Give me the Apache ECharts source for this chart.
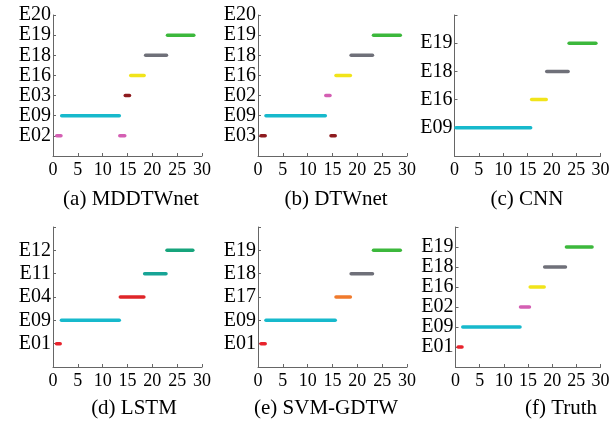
<!DOCTYPE html>
<html>
<head>
<meta charset="utf-8">
<script src="https://cdn.jsdelivr.net/npm/echarts@6/dist/echarts.min.js"></script>
<style>html,body{margin:0;padding:0;background:#fff}#c{width:615px;height:426px}</style>
</head>
<body>
<div id="c"></div>
<script>
// ---- data ----
const xTicks = [0, 5, 10, 15, 20, 25, 30];

const titles = ['(a) MDDTWnet', '(b) DTWnet', '(c) CNN', '(d) LSTM', '(e) SVM-GDTW', '(f) Truth'];

const labelsA = ['', 'E02', 'E09', 'E03', 'E16', 'E18', 'E19', 'E20'];
const segsA = [['E02', 0.75, 1.6], ['E02', 13.45, 14.45], ['E09', 1.75, 13.35], ['E03', 14.55, 15.4],
               ['E16', 15.65, 18.35], ['E18', 18.65, 22.85], ['E19', 23.05, 28.35]];

const labelsB = ['', 'E03', 'E09', 'E02', 'E16', 'E18', 'E19', 'E20'];
const segsB = [['E03', 0.6, 1.45], ['E03', 14.7, 15.55], ['E09', 1.6, 13.55], ['E02', 13.65, 14.5],
               ['E16', 15.7, 18.6], ['E18', 18.75, 23.05], ['E19', 23.25, 28.65]];

const labelsC = ['', 'E09', 'E16', 'E18', 'E19', ''];
const segsC = [['E09', 0.3, 15.65], ['E16', 15.85, 18.85], ['E18', 18.95, 23.35], ['E19', 23.55, 29.05]];

const labelsD = ['', 'E01', 'E09', 'E04', 'E11', 'E12', ''];
const segsD = [['E01', 0.7, 1.45], ['E09', 1.7, 13.35], ['E04', 13.55, 18.3], ['E11', 18.45, 22.75], ['E12', 22.95, 28.15]];

const labelsE = ['', 'E01', 'E09', 'E17', 'E18', 'E19', ''];
const segsE = [['E01', 0.6, 1.45], ['E09', 1.6, 15.55], ['E17', 15.7, 18.6], ['E18', 18.75, 23.05], ['E19', 23.25, 28.65]];

const labelsF = ['', 'E01', 'E09', 'E02', 'E16', 'E18', 'E19', ''];
const segsF = [['E01', 0.55, 1.35], ['E09', 1.5, 13.35], ['E02', 13.45, 15.3], ['E16', 15.45, 18.35],
               ['E18', 18.45, 22.75], ['E19', 22.95, 28.25]];

// ---- styles ----
const eventColors = {
  E01: '#e8232c', E02: '#d45fb3', E03: '#8e1b1f', E04: '#df2528', E09: '#17b9cc',
  E11: '#17a496', E12: '#17a47c', E16: '#f1e41a', E17: '#f07a2c', E18: '#6f7079', E19: '#3cb83c'
};
const FONT = 'Liberation Serif';
const grids = [
  {left: 53, top: 15, width: 149, height: 141},
  {left: 258, top: 15, width: 149, height: 141},
  {left: 454.5, top: 15, width: 146, height: 141},
  {left: 53, top: 227, width: 149, height: 140},
  {left: 258, top: 227, width: 149, height: 140},
  {left: 455.5, top: 227, width: 145, height: 140}
];
const titlePos = [[131, 199], [336, 199], [527, 199], [134, 408], [326, 408], [561, 408]];

const panels = [
  [labelsA, segsA], [labelsB, segsB], [labelsC, segsC],
  [labelsD, segsD], [labelsE, segsE], [labelsF, segsF]
];

const axisLine = {show: true, lineStyle: {color: '#666', width: 1}};
const option = {
  animation: false,
  backgroundColor: '#fff',
  grid: grids,
  xAxis: panels.map((p, i) => ({
    type: 'value', gridIndex: i, min: xTicks[0], max: xTicks[xTicks.length - 1], interval: 5,
    axisLine: axisLine,
    axisTick: {show: true, inside: true, length: 3, lineStyle: {color: '#666'}},
    splitLine: {show: false},
    axisLabel: {color: '#000', fontFamily: FONT, fontSize: 18, margin: 5}
  })),
  yAxis: panels.map((p, i) => ({
    type: 'value', gridIndex: i, min: 0, max: p[0].length - 1, interval: 1,
    axisLine: axisLine,
    axisTick: {show: true, inside: true, length: 3, lineStyle: {color: '#666'}},
    splitLine: {show: false},
    axisLabel: {color: '#000', fontFamily: FONT, fontSize: 20, lineHeight: 19, margin: 2,
      hideOverlap: false,
      formatter: (v) => p[0][Math.round(v)] || ''}
  })),
  series: panels.map((p, i) => {
    const labels = p[0], segs = p[1];
    return {
      type: 'custom', xAxisIndex: i, yAxisIndex: i, clip: false,
      data: segs.map(s => [s[1], s[2], labels.indexOf(s[0])]),
      renderItem: function (params, api) {
        const a = api.coord([api.value(0), api.value(2)]);
        const b = api.coord([api.value(1), api.value(2)]);
        const ev = segs[params.dataIndex][0];
        return {
          type: 'line',
          shape: {x1: a[0], y1: a[1], x2: b[0], y2: b[1]},
          style: {stroke: eventColors[ev], lineWidth: 3.5, lineCap: 'round'}
        };
      }
    };
  }),
  graphic: titles.map((t, i) => ({
    type: 'text', x: titlePos[i][0], y: titlePos[i][1],
    style: {text: t, fill: '#000', font: '21px "' + FONT + '"', textAlign: 'center', textVerticalAlign: 'middle'}
  }))
};

const chart = echarts.init(document.getElementById('c'), null, {renderer: 'canvas'});
chart.setOption(option);
</script>
</body>
</html>
